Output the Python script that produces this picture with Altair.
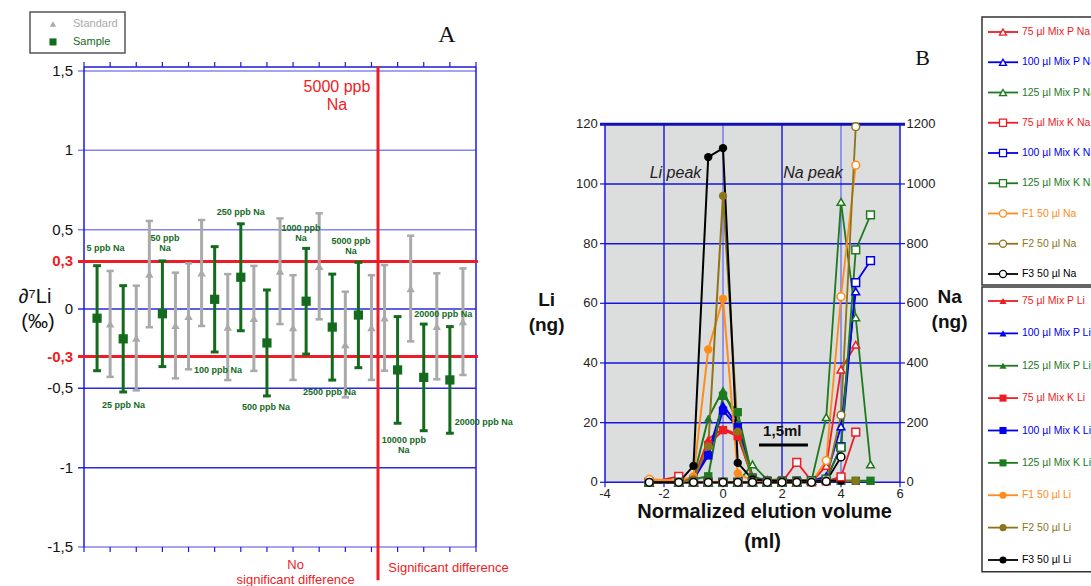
import altair as alt
import pandas as pd

FONT = "Liberation Sans"
SERIF = "Liberation Serif"
RED = "#EE1C24"
BLUE = "#0000EE"
GREEN = "#1E7A1E"
GREEN_A = "#146B1E"
GRAY = "#AAAAAA"
ORANGE = "#FF8C1A"
OLIVE = "#8C7519"
BLACK = "#000000"

# ---------------- Panel A data ----------------
std_pos = [2, 4, 5, 7, 8, 9, 11, 13, 15, 16, 18, 20, 22, 23, 25, 27, 29]
std_val = [-0.094, -0.183, 0.22, -0.104, -0.046, 0.227, -0.114, -0.059, 0.238,
           -0.117, 0.269, -0.224, -0.117, -0.056, 0.129, -0.109, -0.08]
std_err = [0.334, 0.33, 0.335, 0.333, 0.334, 0.334, 0.334, 0.331, 0.333,
           0.33, 0.334, 0.333, 0.33, 0.333, 0.333, 0.334, 0.336]
smp_pos = [1, 3, 6, 10, 12, 14, 17, 19, 21, 24, 26, 28]
smp_val = [-0.058, -0.188, -0.03, 0.061, 0.2, -0.214, 0.049, -0.114, -0.038,
           -0.384, -0.431, -0.447]
smp_err = [0.331, 0.335, 0.333, 0.332, 0.337, 0.334, 0.333, 0.334, 0.332,
           0.336, 0.336, 0.336]
ann_text = ["5 ppb Na", "25 ppb Na", "50 ppb\nNa", "250 ppb Na", "100 ppb Na",
            "1000 ppb\nNa", "500 ppb Na", "5000 ppb\nNa", "2500 ppb Na",
            "20000 ppb Na", "10000 ppb\nNa", "20000 ppb Na"]
ann_u = [1.65, 3.02, 6.2, 12.0, 10.25, 16.6, 13.93, 20.43, 18.78, 27.5, 24.48, 30.6]
ann_v = [0.385, -0.605, 0.447, 0.611, -0.384, 0.51, -0.618, 0.4286, -0.523,
         -0.0315, -0.826, -0.712]
yA_ticks = [1.5, 1, 0.5, 0, -0.5, -1, -1.5]
yA_labels = ["1,5", "1", "0,5", "0", "-0,5", "-1", "-1,5"]
yA_red = [0.3, -0.3]
yA_red_labels = ["0,3", "-0,3"]

# ---------------- Panel B data ----------------
xv = [-2.5, -1.5, -1, -0.5, 0, 0.5, 1, 1.5, 2, 2.5, 3, 3.5, 4, 4.5, 5]
li_names = ["75 µl Mix P Li", "100 µl Mix P Li", "125 µl Mix P Li",
            "75 µl Mix K Li", "100 µl Mix K Li", "125 µl Mix K Li",
            "F1 50 µl Li", "F2 50 µl Li", "F3 50 µl Li"]
na_names = ["75 µl Mix P Na", "100 µl Mix P Na", "125 µl Mix P Na",
            "75 µl Mix K Na", "100 µl Mix K Na", "125 µl Mix K Na",
            "F1 50 µl Na", "F2 50 µl Na", "F3 50 µl Na"]
ser_colors = [RED, BLUE, GREEN, RED, BLUE, GREEN, ORANGE, OLIVE, BLACK]
ser_shapes = ["triangle-up"] * 3 + ["square"] * 3 + ["circle"] * 3
li_vals = [
    [0, 0, 1, 14.5, 18, 16, 1.5, 0.5, 0.5, 0.5, 0.5, 0.5, 0.5],
    [0, 0, 1, 10, 26, 19, 1.5, 0.5, 0.5, 0.5, 0.5, 0.5, 0.5],
    [0, 0, 1.5, 21.5, 31, 20, 2, 0.5, 1, 0.5, 0.5, 0.5, 0.5],
    [0, 0, 1, 12.5, 17.5, 15.5, 1.5, 0.5, 0.5, 0.5, 0.5, 0.5, 0.5],
    [0, 0, 1, 9, 24, 18.5, 1.5, 0.5, 0.5, 0.5, 0.5, 0.5, 0.5],
    [0, 0, 1, 2, 29, 23.5, 1.5, 0.5, 0.5, 0.5, 0.5, 0.5, 0.5, 0.5, 0.5],
    [1, 0.5, 2, 44.5, 61.5, 3, 0.5, 0.5, 0.5, 0.5, 0.5, 0.5, 0.5],
    [0, 0, 1, 12, 96, 17, 1, 0.5, 0.5, 0.5, 0.5, 0.5, 0.5, 0.5],
    [0, 0, 5.5, 109, 112, 6.5, 1, 0.5, 0.5, 0.5, 0.5, 0.5, 0.5],
]
na_vals = [
    [0, 0, 0, 0, 0, 0, 0, 0, 0, 0, 0, 55, 378, 461],
    [0, 0, 0, 0, 0, 0, 0, 0, 0, 0, 5, 20, 187, 640],
    [0, 0, 0, 0, 0, 0, 60, 8, 10, 0, 5, 218, 940, 553, 60],
    [0, 20, 0, 0, 0, 0, 0, 0, 0, 67, 5, 5, 18, 168],
    [0, 0, 0, 0, 0, 0, 0, 0, 0, 0, 5, 10, 120, 669, 743],
    [0, 0, 0, 0, 0, 0, 0, 0, 0, 0, 5, 10, 117, 779, 896],
    [10, 0, 0, 0, 0, 0, 0, 0, 0, 0, 0, 73, 622, 1063],
    [0, 0, 0, 0, 0, 0, 0, 0, 0, 0, 0, 5, 225, 1192],
    [0, 0, 0, 0, 0, 0, 0, 0, 0, 0, 0, 3, 85],
]
yB_ticks = [0, 20, 40, 60, 80, 100, 120]
yN_ticks = [0, 200, 400, 600, 800, 1000, 1200]
xB_ticks = [-4, -2, 0, 2, 4, 6]

# ---------------- scales ----------------
XA = ([0, 30], [84, 476])
YA = ([-1.5, 1.5], [547, 71])
XB = ([-4, 6], [605, 900])
YB = ([0, 120], [482.3, 124.3])
YN = ([0, 1200], [482.3, 124.3])
XLA = ([0, 1], [30, 125])
YLA = ([0, 1], [12, 53])
XL = ([0, 1], [988, 1018])
YLT = ([0, 8], [32, 274])
YLB = ([0, 8], [301, 560])


def sc(domain, rng):
    return alt.Scale(domain=domain, range=rng, nice=False, zero=False)


def pos(xs, ys, x, y, x2=None, y2=None):
    d = dict(x=alt.X(x, type="quantitative", scale=sc(*xs), axis=None),
             y=alt.Y(y, type="quantitative", scale=sc(*ys), axis=None))
    if x2:
        d["x2"] = alt.X2(x2)
    if y2:
        d["y2"] = alt.Y2(y2)
    return d


def rules(xs, ys, x0, y0, x1, y1, color, width):
    df = pd.DataFrame({"x0": x0, "y0": y0, "x1": x1, "y1": y1})
    return alt.Chart(df).mark_rule(color=color, strokeWidth=width).encode(
        **pos(xs, ys, "x0", "y0", "x1", "y1"))


def texts(xs, ys, x, y, t, **kw):
    df = pd.DataFrame({"x": x, "y": y, "t": t})
    kw.setdefault("font", FONT)
    kw.setdefault("baseline", "middle")
    return alt.Chart(df).mark_text(lineBreak="\n", **kw).encode(
        **pos(xs, ys, "x", "y"), text="t:N")


layers = []

# ================= Panel A =================
n = len(yA_ticks)
LIGHT = "#8585EE"
STRONG = "#2A2AE0"
gcol = [LIGHT, LIGHT, LIGHT, STRONG, STRONG, STRONG, LIGHT]
gdf = pd.DataFrame({"v": yA_ticks, "c": gcol, "u0": [-0.46] * n, "u1": [30] * n})
layers.append(alt.Chart(gdf).mark_rule(strokeWidth=1.5).encode(
    **pos(XA, YA, "u0", "v", x2="u1"), color=alt.Color("c:N", scale=None)))
# frame
layers.append(rules(XA, YA, [0, 30], [-1.5, -1.5], [0, 30], [1.525, 1.525], "#1A1AE6", 1.5))
layers.append(rules(XA, YA, [0], [1.525], [30], [1.525], "#1A1AD0", 1.5))
tu = list(range(0, 31, 2))
layers.append(rules(XA, YA, tu, [1.525] * len(tu), tu, [1.557] * len(tu), "#1A1AE6", 1.2))
layers.append(rules(XA, YA, tu, [-1.5] * len(tu), tu, [-1.532] * len(tu), "#1A1AE6", 1.2))
# red lines
layers.append(rules(XA, YA, [-0.46, -0.46], yA_red, [30.15, 30.15], yA_red, RED, 3))
layers.append(rules(XA, YA, [22.5], [1.53], [22.5], [-1.71], RED, 3))

# standard error bars
sdf = pd.DataFrame({"u": std_pos, "v": std_val, "e": std_err})
sdf["lo"] = sdf.v - sdf.e
sdf["hi"] = sdf.v + sdf.e
sdf["ul"] = sdf.u - 0.28
sdf["ur"] = sdf.u + 0.28
layers.append(alt.Chart(sdf).mark_rule(color=GRAY, strokeWidth=3).encode(
    **pos(XA, YA, "u", "lo", y2="hi")))
for f in ["lo", "hi"]:
    layers.append(alt.Chart(sdf).mark_rule(color=GRAY, strokeWidth=2.5).encode(
        **pos(XA, YA, "ul", f, x2="ur")))
layers.append(alt.Chart(sdf).mark_point(shape="triangle-up", filled=True, size=70,
                                        color=GRAY, opacity=1).encode(**pos(XA, YA, "u", "v")))

# sample error bars
gdf2 = pd.DataFrame({"u": smp_pos, "v": smp_val, "e": smp_err})
gdf2["lo"] = gdf2.v - gdf2.e
gdf2["hi"] = gdf2.v + gdf2.e
gdf2["ul"] = gdf2.u - 0.3
gdf2["ur"] = gdf2.u + 0.3
layers.append(alt.Chart(gdf2).mark_rule(color=GREEN_A, strokeWidth=3).encode(
    **pos(XA, YA, "u", "lo", y2="hi")))
for f in ["lo", "hi"]:
    layers.append(alt.Chart(gdf2).mark_rule(color=GREEN_A, strokeWidth=3).encode(
        **pos(XA, YA, "ul", f, x2="ur")))
layers.append(alt.Chart(gdf2).mark_point(shape="square", filled=True, size=85,
                                         color=GREEN_A, opacity=1).encode(**pos(XA, YA, "u", "v")))

# annotations
layers.append(texts(XA, YA, ann_u, ann_v, ann_text, fontSize=9, fontWeight="bold",
                    color=GREEN_A, align="center", lineHeight=10))
layers.append(texts(XA, YA, [19.36], [1.399], ["5000 ppb\nNa"], fontSize=16,
                    color=RED, align="center", lineHeight=18))
layers.append(texts(XA, YA, [16.2], [-1.613], ["No\nsignificant difference"], fontSize=13,
                    color=RED, align="center", lineHeight=15))
layers.append(texts(XA, YA, [27.9], [-1.632], ["Significant difference"], fontSize=13,
                    color=RED, align="center"))
layers.append(texts(XA, YA, [-0.84] * n, yA_ticks, yA_labels, fontSize=15,
                    color="#111111", align="right"))
layers.append(texts(XA, YA, [-0.84, -0.84], yA_red, yA_red_labels, fontSize=15,
                    fontWeight="bold", color=RED, align="right"))
layers.append(texts(XA, YA, [-3.75, -3.52], [0.076, -0.082], ["∂⁷Li", "(‰)"], fontSize=20,
                    color="#111111", align="center"))
layers.append(texts(XA, YA, [27.77], [1.727], ["A"], fontSize=24, font=SERIF,
                    color="#111111", align="center"))

# legend A
layers.append(alt.Chart(pd.DataFrame({"a": [0], "b": [0], "c": [1], "d": [1]})).mark_rect(
    fill="transparent", stroke="#555555", strokeWidth=1.5).encode(
    **pos(XLA, YLA, "a", "b", "c", "d")))
layers.append(alt.Chart(pd.DataFrame({"x": [0.242], "y": [0.293]})).mark_point(
    shape="triangle-up", filled=True, size=40, color=GRAY, opacity=1).encode(**pos(XLA, YLA, "x", "y")))
layers.append(alt.Chart(pd.DataFrame({"x": [0.242], "y": [0.73]})).mark_point(
    shape="square", filled=True, size=50, color=GREEN_A, opacity=1).encode(**pos(XLA, YLA, "x", "y")))
layers.append(texts(XLA, YLA, [0.453], [0.293], ["Standard"], fontSize=11, color=GRAY, align="left"))
layers.append(texts(XLA, YLA, [0.453], [0.73], ["Sample"], fontSize=11, color=GREEN_A, align="left"))

# ================= Panel B =================
layers.append(alt.Chart(pd.DataFrame({"a": [-4], "b": [0], "c": [6], "d": [120]})).mark_rect(
    color="#DCDDDD").encode(**pos(XB, YB, "a", "b", "c", "d")))
# grid
layers.append(rules(XB, YB, [-2, 2], [0, 0], [-2, 2], [120, 120], "#2020DD", 1.5))
layers.append(rules(XB, YB, [0, 4], [0, 0], [0, 4], [120, 120], "#7A7AEE", 1.5))
hy = [20, 40, 60, 80, 100]
layers.append(rules(XB, YB, [-4] * 5, hy, [6] * 5, hy, "#1515DD", 1.5))
layers.append(rules(XB, YB, [-4.17], [120], [6.17], [120], "#1010B0", 3))
layers.append(rules(XB, YB, [-4, 6], [0, 0], [-4, 6], [120, 120], "#1515DD", 1.5))
layers.append(rules(XB, YB, [-4], [0], [6], [0], "#1515DD", 1.5))
layers.append(rules(XB, YB, [-4.17] * 7, yB_ticks, [-4] * 7, yB_ticks, "#1515DD", 1.2))
layers.append(rules(XB, YB, [6] * 7, yB_ticks, [6.17] * 7, yB_ticks, "#1515DD", 1.2))
layers.append(rules(XB, YB, xB_ticks, [0] * 6, xB_ticks, [-1.7] * 6, "#1515DD", 1.2))

# series
rows_li, rows_na = [], []
for i in range(9):
    for j, v in enumerate(li_vals[i]):
        rows_li.append({"name": li_names[i], "x": xv[j], "y": v,
                        "col": ser_colors[i], "shp": ser_shapes[i]})
    for j, v in enumerate(na_vals[i]):
        rows_na.append({"name": na_names[i], "x": xv[j], "y": v,
                        "col": ser_colors[i], "shp": ser_shapes[i]})
dli = pd.DataFrame(rows_li)
dna = pd.DataFrame(rows_na)

layers.append(alt.Chart(dna).mark_line(strokeWidth=1.8).encode(
    **pos(XB, YN, "x", "y"), color=alt.Color("col:N", scale=None), detail="name:N"))
layers.append(alt.Chart(dli).mark_line(strokeWidth=2).encode(
    **pos(XB, YB, "x", "y"), color=alt.Color("col:N", scale=None), detail="name:N"))
layers.append(alt.Chart(dli).mark_point(filled=True, size=70, opacity=1).encode(
    **pos(XB, YB, "x", "y"), color=alt.Color("col:N", scale=None),
    shape=alt.Shape("shp:N", scale=None)))
layers.append(alt.Chart(dna).mark_point(filled=True, size=60, opacity=1, strokeWidth=1.5).encode(
    **pos(XB, YN, "x", "y"), fill=alt.value("white"),
    stroke=alt.Stroke("col:N", scale=None), shape=alt.Shape("shp:N", scale=None)))

# text panel B
layers.append(texts(XB, YB, [-4.25] * 7, yB_ticks, [str(t) for t in yB_ticks],
                    fontSize=13, color="#222222", align="right"))
layers.append(texts(XB, YB, [6.22] * 7, yB_ticks, [str(t) for t in yN_ticks],
                    fontSize=13, color="#222222", align="left"))
layers.append(texts(XB, YB, xB_ticks, [-3.9] * 6, [str(t) for t in xB_ticks],
                    fontSize=13, color="#222222", align="center"))
layers.append(texts(XB, YB, [-1.61, 3.05], [103.8, 103.8], ["Li peak", "Na peak"],
                    fontSize=16, fontStyle="italic", color="#222222", align="center"))
layers.append(texts(XB, YB, [2.01], [17.2], ["1,5ml"], fontSize=15, fontWeight="bold",
                    color="#111111", align="center"))
layers.append(rules(XB, YB, [1.22], [12.5], [2.88], [12.5], BLACK, 3))
layers.append(texts(XB, YB, [-5.98, 7.68], [61.0, 62.0], ["Li\n(ng)", "Na\n(ng)"],
                    fontSize=19, fontWeight="bold", color="#111111", align="center",
                    lineHeight=25))
layers.append(texts(XB, YB, [1.41, 1.34], [-10.1, -20.0], ["Normalized elution volume", "(ml)"],
                    fontSize=20, fontWeight="bold", color="#111111", align="center"))
layers.append(texts(XB, YB, [6.77], [142.2], ["B"], fontSize=22, font=SERIF,
                    color="#111111", align="center"))

# legend B
for names, ysc, box, filled in [(na_names, YLT, (-0.496, 8.36), False),
                                (li_names, YLB, (-0.432, 8.36), True)]:
    ldf = pd.DataFrame({"i": list(range(9)), "t": names, "col": ser_colors,
                        "shp": ser_shapes})
    ldf["x0"] = 0.0
    ldf["x1"] = 1.0
    ldf["xm"] = 0.5
    ldf["xt"] = 1.13
    layers.append(alt.Chart(pd.DataFrame({"a": [-0.2], "b": [box[0]], "c": [4.2], "d": [box[1]]})).mark_rect(
        fill="white", stroke="#333333", strokeWidth=1.5).encode(**pos(XL, ysc, "a", "b", "c", "d")))
    layers.append(alt.Chart(ldf).mark_rule(strokeWidth=1.8).encode(
        **pos(XL, ysc, "x0", "i", x2="x1"), color=alt.Color("col:N", scale=None)))
    if filled:
        layers.append(alt.Chart(ldf).mark_point(filled=True, size=50, opacity=1).encode(
            **pos(XL, ysc, "xm", "i"), color=alt.Color("col:N", scale=None),
            shape=alt.Shape("shp:N", scale=None)))
    else:
        layers.append(alt.Chart(ldf).mark_point(filled=True, size=50, opacity=1, strokeWidth=1.3).encode(
            **pos(XL, ysc, "xm", "i"), fill=alt.value("white"),
            stroke=alt.Stroke("col:N", scale=None), shape=alt.Shape("shp:N", scale=None)))
    layers.append(alt.Chart(ldf).mark_text(font=FONT, fontSize=10.5, align="left",
                                           baseline="middle").encode(
        **pos(XL, ysc, "xt", "i"), text="t:N", color=alt.Color("col:N", scale=None)))

chart = alt.layer(*layers).properties(
    width=1091, height=586, padding=0, autosize=alt.AutoSizeParams(type="none")
).resolve_scale(x="independent", y="independent").configure_view(stroke=None)

chart.save("out.html", embed_options={"renderer": "svg", "actions": False})
